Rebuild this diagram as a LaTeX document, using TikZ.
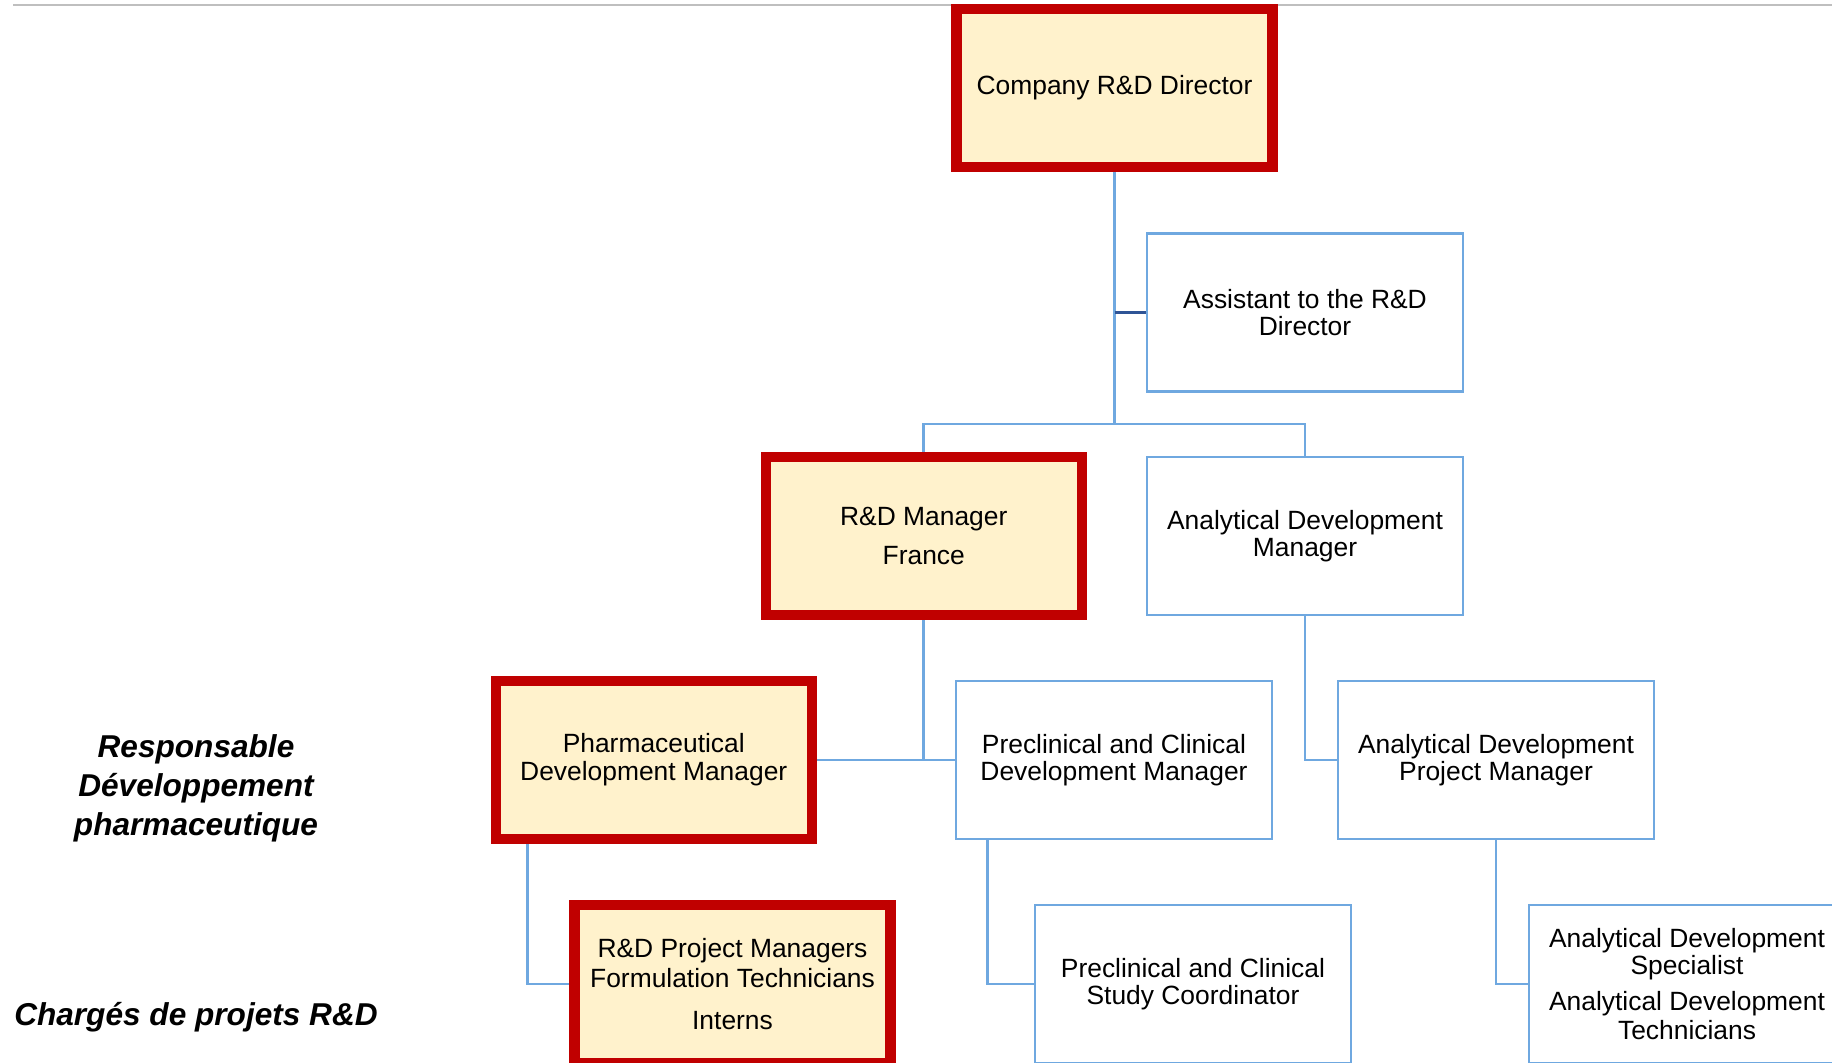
\documentclass[tikz,border=0pt]{standalone}
\usepackage{fontspec}
\setmainfont{Liberation Sans}
\usetikzlibrary{calc,backgrounds}

\definecolor{boxred}{HTML}{C00000}
\definecolor{boxcream}{HTML}{FFF2CC}
\definecolor{linkblue}{HTML}{6FA8E0}
\definecolor{linknavy}{HTML}{2F5496}
\definecolor{rulegray}{HTML}{BFBFBF}

\tikzset{
  base box/.style={rectangle, inner sep=0pt, outer sep=0pt, align=center,
    minimum width=158pt, minimum height=79pt,
    font=\fontsize{13.2}{13.3}\selectfont},
  keybox/.style={base box, draw=boxred, line width=5.25pt, fill=boxcream},
  staffbox/.style={base box, draw=linkblue, line width=1.4pt, fill=white},
  link/.style={draw=linkblue, line width=1.4pt},
  assistlink/.style={draw=linknavy, line width=1.4pt},
  sidelabel/.style={align=center, inner sep=0pt,
    font=\fontsize{15.8}{19.5}\selectfont\bfseries\itshape},
}

\begin{document}
\begin{tikzpicture}[x=0.5pt, y=-0.5pt]
  \useasboundingbox (0,0) rectangle (1832,1063);
  \clip (0,0) rectangle (1832,1063);

  % rule along the top
  \coordinate (ruleL) at (13,5);
  \coordinate (ruleR) at (1832,5);
  \draw[rulegray, line width=1pt] (ruleL) -- (ruleR);

  % boxes
  \node[keybox]   (dir)    at (1114.5,88)  {Company R\&D Director};
  \node[staffbox] (asst)   at (1305,312.5) {Assistant to the R\&D\\Director};
  \node[keybox]   (mgrfr)  at (923.75,536) {R\&D Manager\\[5.8pt]France};
  \node[staffbox] (admgr)  at (1305,536)   {Analytical Development\\Manager};
  \node[keybox]   (pharma) at (653.75,760) {Pharmaceutical\\[0.8pt]Development Manager};
  \node[staffbox] (pcdm)   at (1114,760)   {Preclinical and Clinical\\Development Manager};
  \node[staffbox] (adpm)   at (1496,760)   {Analytical Development\\Project Manager};
  \node[keybox]   (prj)    at (732.5,984)  {R\&D Project Managers\\[1.8pt]Formulation Technicians\\[7.8pt]Interns};
  \node[staffbox] (coord)  at (1193,984)   {Preclinical and Clinical\\Study Coordinator};
  \node[staffbox] (spec)   at (1687,984)   {Analytical Development\\Specialist\\[5pt]Analytical Development\\[0.8pt]Technicians};

  % side labels
  \node[sidelabel] (lblresp) at (196,788) {Responsable\\Développement\\pharmaceutique};
  \node[sidelabel, anchor=base] (lblcharges) at (196,1025) {Chargés de projets R\&D};

  % connectors
  \begin{scope}[on background layer]
    \coordinate (split) at (1114.5,424);
    \draw[link] (dir.south) -- (split);
    \draw[assistlink] (dir.south |- asst.west) -- (asst.west);
    \draw[link] (split) -| (mgrfr.north);
    \draw[link] (split) -| (admgr.north);
    \draw[link] (mgrfr.south) |- (pharma.east);
    \draw[link] (mgrfr.south) |- (pcdm.west);
    \draw[link] (admgr.south) |- (adpm.west);
    \draw[link] ($(pharma.south west)!0.1!(pharma.south east)$) |- (prj.west);
    \draw[link] ($(pcdm.south west)!0.1!(pcdm.south east)$) |- (coord.west);
    \draw[link] (adpm.south) |- (spec.west);
  \end{scope}
\end{tikzpicture}
\end{document}
